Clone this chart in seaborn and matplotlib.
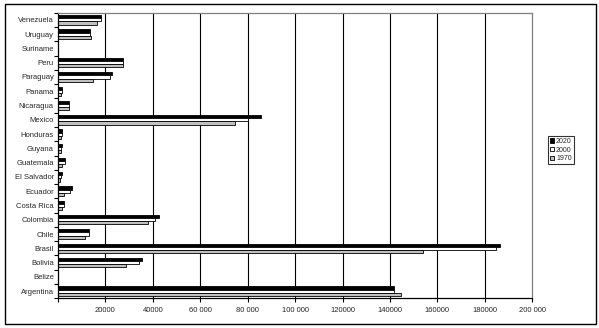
import matplotlib
matplotlib.use("Agg")
import matplotlib.pyplot as plt
import seaborn as sns
import pandas as pd
from matplotlib.patches import Rectangle
from matplotlib.ticker import FixedLocator

countries = ["Venezuela", "Uruguay", "Suriname", "Peru", "Paraguay", "Panama",
             "Nicaragua", "Mexico", "Honduras", "Guyana", "Guatemala", "El Salvador",
             "Ecuador", "Costa Rica", "Colombia", "Chile", "Brasil", "Bolivia",
             "Belize", "Argentina"]
v2020 = [18200, 13500, 0, 27200, 22900, 1800, 4800, 85600, 1800, 1600, 2900, 1800,
         5800, 2500, 42700, 13200, 186400, 35600, 0, 141500]
v2000 = [18000, 13500, 0, 27200, 21900, 1700, 4800, 80000, 1700, 1400, 2900, 1100,
         5100, 2500, 40800, 13200, 184500, 34100, 0, 141800]
v1970 = [16600, 14000, 0, 27300, 14900, 1100, 4700, 74500, 1300, 1100, 1500, 700,
         2500, 1500, 37900, 11500, 154000, 28800, 0, 144700]
series = ["2020", "2000", "1970"]
tick_values = [0, 20000, 40000, 60000, 80000, 100000, 120000, 140000, 160000, 180000, 200000]
tick_labels = ["", "20000", "40000", "60 000", "80 000", "100 000", "120000",
               "140000", "160000", "180000", "200 000"]

df = pd.DataFrame({
    "country": countries * 3,
    "value": v2020 + v2000 + v1970,
    "year": [series[0]] * len(countries) + [series[1]] * len(countries) + [series[2]] * len(countries),
})

sns.set_style("white")
plt.rcParams["font.family"] = ["Liberation Sans", "DejaVu Sans"]

fig = plt.figure(figsize=(5.99, 3.28), dpi=100)
ax = fig.add_axes([58 / 599, 1 - 298.3 / 328, (532.3 - 58) / 599, (298.3 - 12.7) / 328])

palette = {"2020": "#000000", "2000": "#ffffff", "1970": "#c0c0c0"}
sns.barplot(data=df, x="value", y="country", hue="year", order=countries,
            hue_order=series, palette=palette, orient="h", width=0.66,
            edgecolor="black", linewidth=0.6, ax=ax, saturation=1, legend=True)

ax.set_xlim(0, 200000)
ax.set_ylim(len(countries) - 0.5, -0.5)
ax.set_xticks(tick_values)
ax.set_xticklabels(tick_labels, fontsize=5.5)
ax.set_xlabel("")
ax.set_ylabel("")
ax.tick_params(axis="y", labelsize=5.5, length=0, pad=3)
ax.tick_params(axis="x", direction="out", length=3, width=0.8, color="black", pad=3, bottom=True)
ax.yaxis.set_minor_locator(FixedLocator([i - 0.5 for i in range(len(countries) + 1)]))
ax.tick_params(axis="y", which="minor", direction="out", length=3, width=0.8, color="black", left=True)

for xv in tick_values[1:-1]:
    ax.axvline(xv, color="black", linewidth=0.8, zorder=0)

for side in ["left", "bottom"]:
    ax.spines[side].set_color("black")
    ax.spines[side].set_linewidth(0.9)
for side in ["top", "right"]:
    ax.spines[side].set_color("#808080")
    ax.spines[side].set_linewidth(0.9)

leg = ax.legend(loc="center left", bbox_to_anchor=(548 / 599, 1 - 150 / 328), bbox_transform=fig.transFigure,
                fontsize=5, frameon=True, fancybox=False, edgecolor="black",
                handlelength=0.6, handleheight=0.6, handletextpad=0.25, borderpad=0.3,
                labelspacing=0.25, borderaxespad=0)
leg.get_frame().set_linewidth(0.8)

fig.patches.append(Rectangle((4.5 / 599, 1 - 323.7 / 328), (595.7 - 4.5) / 599, (323.7 - 4.3) / 328,
                             transform=fig.transFigure, fill=False, edgecolor="black", linewidth=1.0))

fig.savefig("out.png", dpi=100)
